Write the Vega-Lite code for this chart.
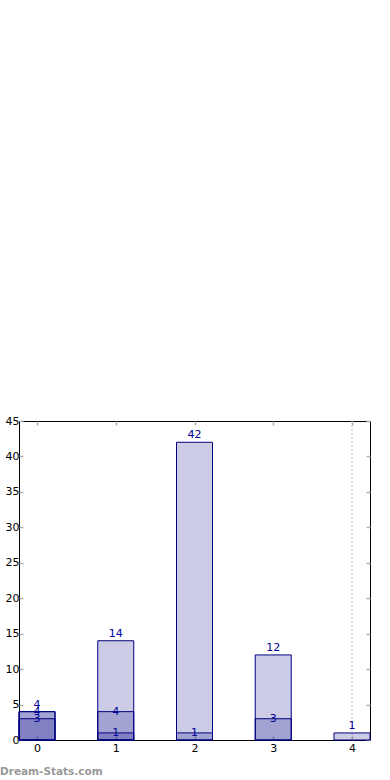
{
  "$schema": "https://vega.github.io/schema/vega-lite/v6.json",
  "autosize": {"type": "none"},
  "width": 351,
  "height": 319,
  "padding": {"left": 19, "top": 421, "right": 20, "bottom": 40},
  "background": "white",
  "config": {
    "view": {"stroke": "black", "strokeWidth": 1},
    "axis": {
      "domain": false,
      "grid": false,
      "tickColor": "#b0b0b0",
      "tickSize": -4,
      "tickWidth": 1.5,
      "labelFont": "DejaVu Sans",
      "labelFontSize": 11,
      "labelColor": "black",
      "title": null,
      "zindex": 1
    }
  },
  "title": {
    "text": "Dream-Stats.com",
    "orient": "bottom",
    "anchor": "start",
    "frame": "bounds",
    "font": "DejaVu Sans",
    "fontSize": 10.5,
    "fontWeight": "bold",
    "color": "#999999",
    "offset": 14,
    "dx": -5
  },
  "data": {
    "values": [
      {"k": 0, "layer": "a", "n": 4},
      {"k": 0, "layer": "b", "n": 4},
      {"k": 0, "layer": "c", "n": 3},
      {"k": 1, "layer": "a", "n": 14},
      {"k": 1, "layer": "b", "n": 4},
      {"k": 1, "layer": "c", "n": 1},
      {"k": 2, "layer": "a", "n": 42},
      {"k": 2, "layer": "b", "n": 1},
      {"k": 3, "layer": "a", "n": 12},
      {"k": 3, "layer": "b", "n": 3},
      {"k": 4, "layer": "a", "n": 1}
    ]
  },
  "layer": [
    {
      "data": {"values": [{"k": 4}]},
      "mark": {"type": "rule", "color": "#bbbbbb", "strokeDash": [2, 2], "strokeWidth": 1},
      "encoding": {
        "x": {"field": "k", "type": "quantitative", "scale": {"domain": [-0.229, 4.229], "nice": false, "zero": false, "padding": 0}, "axis": null}
      }
    },
    {
      "mark": {"type": "bar", "orient": "vertical", "size": 36, "fill": "#000080", "fillOpacity": 0.2, "stroke": "#000080", "strokeWidth": 1},
      "encoding": {
        "x": {"field": "k", "type": "quantitative", "scale": {"domain": [-0.229, 4.229], "nice": false, "zero": false, "padding": 0},
              "axis": {"orient": "bottom", "values": [0, 1, 2, 3, 4], "format": "d", "labelPadding": 6}},
        "y": {"field": "n", "type": "quantitative", "stack": null, "scale": {"domain": [0, 45], "nice": false},
              "axis": {"orient": "left", "values": [0, 5, 10, 15, 20, 25, 30, 35, 40, 45], "labelPadding": 4}}
      }
    },
    {
      "transform": [{"filter": "datum.layer == 'a'"}],
      "mark": {"type": "text", "baseline": "middle", "dy": -7, "font": "DejaVu Sans", "fontSize": 11, "color": "#000099"},
      "encoding": {
        "x": {"field": "k", "type": "quantitative", "axis": {"orient": "top", "values": [0, 1, 2, 3, 4], "labels": false}},
        "y": {"field": "n", "type": "quantitative", "stack": null, "axis": {"orient": "right", "values": [0, 5, 10, 15, 20, 25, 30, 35, 40, 45], "labels": false}},
        "text": {"field": "n"}
      }
    },
    {
      "transform": [{"filter": "datum.layer != 'a'"}],
      "mark": {"type": "text", "baseline": "middle", "dy": 0, "font": "DejaVu Sans", "fontSize": 11, "color": "#000099"},
      "encoding": {
        "x": {"field": "k", "type": "quantitative", "axis": null},
        "y": {"field": "n", "type": "quantitative", "stack": null, "axis": null},
        "text": {"field": "n"}
      }
    }
  ],
  "resolve": {"axis": {"x": "independent", "y": "independent"}}
}
